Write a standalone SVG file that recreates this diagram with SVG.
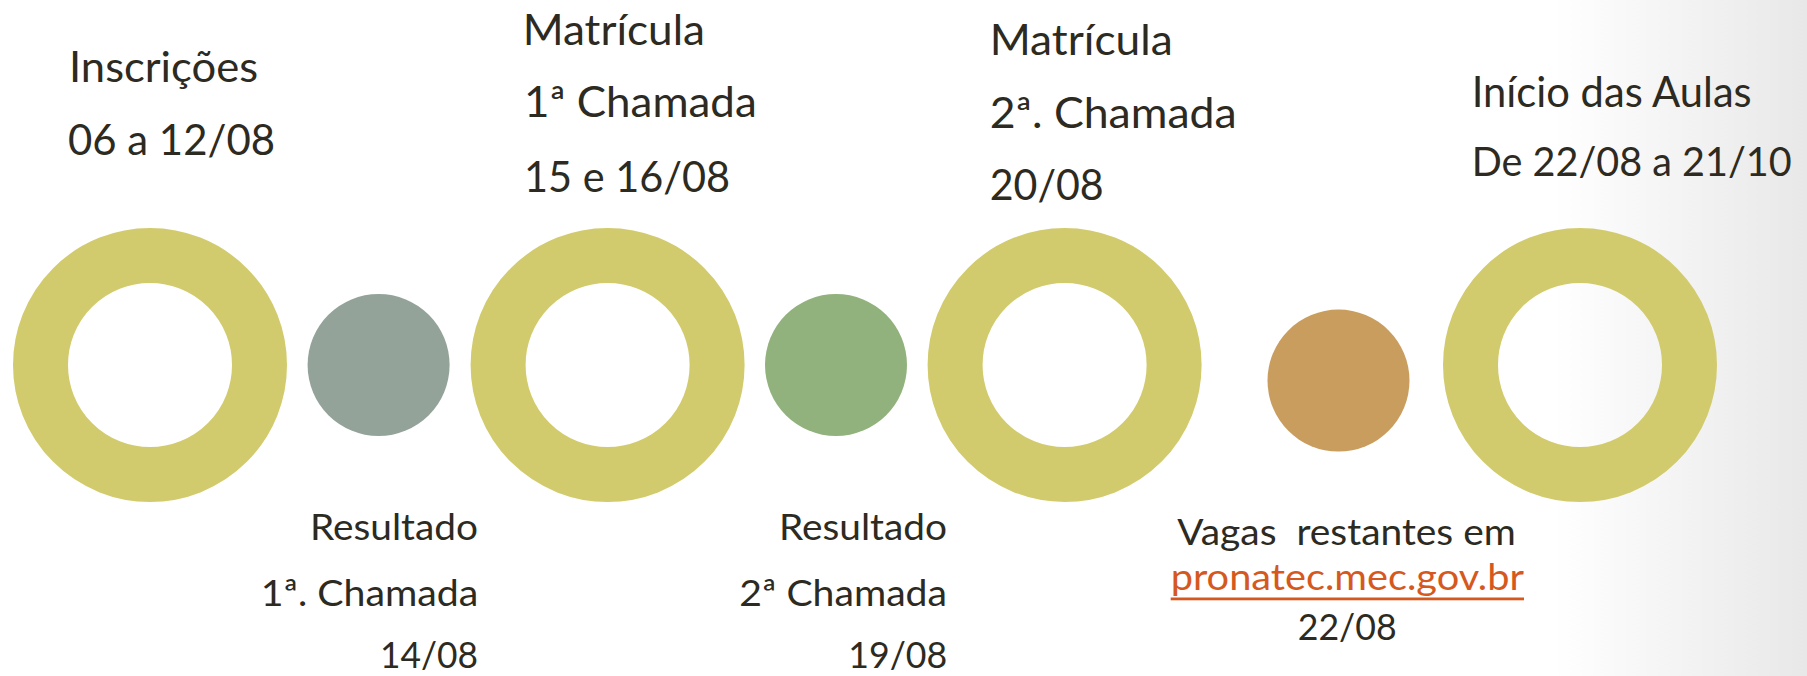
<svg xmlns="http://www.w3.org/2000/svg" width="1807" height="676" viewBox="0 0 1807 676">
  <defs>
    <linearGradient id="bg" x1="0" y1="0" x2="1807" y2="0" gradientUnits="userSpaceOnUse">
      <stop offset="0" stop-color="#FFFFFF"/>
      <stop offset="0.86" stop-color="#FFFFFF"/>
      <stop offset="1" stop-color="#E8E8E8"/>
    </linearGradient>
    <style>
      .ring { fill: none; stroke: #D2CB6E; stroke-width: 55; }
      .t { font-family: Lato, "Open Sans", "Liberation Sans", sans-serif; fill: #2D2A22; }
      .big { font-size: 43px; }
      .small { font-size: 37px; }
      .link { fill: #D5591E; }
    </style>
  </defs>
  <rect x="0" y="0" width="1807" height="676" fill="url(#bg)"/>

  <g id="connectors"></g>

  <g id="inscricoes">
    <circle class="ring" cx="150" cy="365" r="109.5"/>
    <text class="t big" x="69" y="82" textLength="189" lengthAdjust="spacingAndGlyphs">Inscrições</text>
    <text class="t big" x="68" y="155" textLength="207" lengthAdjust="spacingAndGlyphs">06 a 12/08</text>
  </g>

  <g id="resultado1">
    <circle cx="378.6" cy="365" r="71" fill="#93A39A"/>
    <text class="t small" x="310" y="540" textLength="168" lengthAdjust="spacingAndGlyphs">Resultado</text>
    <text class="t small" x="260.7" y="606" textLength="217.6" lengthAdjust="spacingAndGlyphs">1ª. Chamada</text>
    <text class="t small" x="380" y="668" textLength="98" lengthAdjust="spacingAndGlyphs">14/08</text>
  </g>

  <g id="matricula1">
    <circle class="ring" cx="607.6" cy="365" r="109.5"/>
    <text class="t big" x="522.7" y="45" textLength="182.3" lengthAdjust="spacingAndGlyphs">Matrícula</text>
    <text class="t big" x="524" y="117.3" textLength="232.7" lengthAdjust="spacingAndGlyphs">1ª Chamada</text>
    <text class="t big" x="524" y="191.7" textLength="206" lengthAdjust="spacingAndGlyphs">15 e 16/08</text>
  </g>

  <g id="resultado2">
    <circle cx="836" cy="365" r="71" fill="#92B27D"/>
    <text class="t small" x="779" y="540" textLength="168" lengthAdjust="spacingAndGlyphs">Resultado</text>
    <text class="t small" x="739.3" y="606" textLength="207.7" lengthAdjust="spacingAndGlyphs">2ª Chamada</text>
    <text class="t small" x="848.3" y="668" textLength="99" lengthAdjust="spacingAndGlyphs">19/08</text>
  </g>

  <g id="matricula2">
    <circle class="ring" cx="1064.6" cy="365" r="109.5"/>
    <text class="t big" x="989.7" y="54.7" textLength="183" lengthAdjust="spacingAndGlyphs">Matrícula</text>
    <text class="t big" x="989.7" y="128" textLength="247" lengthAdjust="spacingAndGlyphs">2ª. Chamada</text>
    <text class="t big" x="989.7" y="200.4" textLength="114" lengthAdjust="spacingAndGlyphs">20/08</text>
  </g>

  <g id="vagas">
    <circle cx="1338.5" cy="380.6" r="71" fill="#C89D5E"/>
    <text class="t small" x="1177.3" y="545" textLength="338.4" lengthAdjust="spacingAndGlyphs" style="white-space:pre">Vagas  restantes em</text>
    <text class="t small link" x="1170.7" y="590" textLength="353.3" lengthAdjust="spacingAndGlyphs">pronatec.mec.gov.br</text>
    <rect x="1170.7" y="597.5" width="353.3" height="2.8" fill="#D5591E"/>
    <text class="t small" x="1297.7" y="640" textLength="99" lengthAdjust="spacingAndGlyphs">22/08</text>
  </g>

  <g id="inicio">
    <circle class="ring" cx="1580" cy="365" r="109.5"/>
    <text class="t big" x="1471.7" y="106.7" textLength="280" lengthAdjust="spacingAndGlyphs">Início das Aulas</text>
    <text class="t" style="font-size:41px" x="1471.7" y="176" textLength="320" lengthAdjust="spacingAndGlyphs">De 22/08 a 21/10</text>
  </g>
</svg>
